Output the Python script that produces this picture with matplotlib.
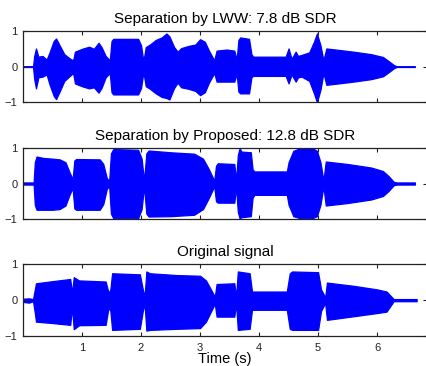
import matplotlib
matplotlib.use("Agg")
import matplotlib.pyplot as plt

plt.rcParams['font.family'] = ['Liberation Sans', 'DejaVu Sans']

titles = ["Separation by LWW: 7.8 dB SDR",
          "Separation by Proposed: 12.8 dB SDR",
          "Original signal"]
xticks = [1, 2, 3, 4, 5, 6]
yticks = [-1, 0, 1]
ytick_labels = ["\u22121", "0", "1"]
xlabel = "Time (s)"

# Envelope of each waveform (time in s, upper and lower extremes)
lww_t = [0.00, 0.17, 0.19, 0.22, 0.26, 0.33, 0.40, 0.45, 0.52, 0.56, 0.62, 0.70, 0.80, 0.85,
         0.88, 1.00, 1.12, 1.20, 1.28, 1.33, 1.40, 1.47, 1.50, 1.53, 1.95, 2.00, 2.04, 2.08,
         2.15, 2.25, 2.35, 2.43, 2.48, 2.56, 2.62, 2.68, 2.80, 2.92, 3.00, 3.08, 3.15, 3.24,
         3.28, 3.45, 3.58, 3.62, 3.65, 3.68, 3.83, 3.87, 3.90, 4.45, 4.50, 4.55, 4.62, 4.66,
         4.72, 4.85, 4.93, 4.98, 5.04, 5.09, 5.14, 5.30, 5.60, 5.90, 6.10, 6.20, 6.28, 6.33, 6.64]
lww_hi = [0.01, 0.01, 0.30, 0.51, 0.28, 0.30, 0.20, 0.40, 0.72, 0.79, 0.60, 0.35, 0.22, 0.18,
          0.42, 0.50, 0.56, 0.50, 0.67, 0.55, 0.30, 0.18, 0.72, 0.78, 0.78, 0.60, 0.15, 0.55,
          0.62, 0.75, 0.82, 0.93, 0.85, 0.55, 0.42, 0.52, 0.58, 0.62, 0.77, 0.70, 0.45, 0.18,
          0.45, 0.48, 0.45, 0.20, 0.75, 0.82, 0.78, 0.35, 0.28, 0.28, 0.51, 0.22, 0.42, 0.30,
          0.33, 0.40, 0.70, 0.93, 0.60, 0.18, 0.51, 0.48, 0.42, 0.35, 0.27, 0.15, 0.05, 0.01, 0.01]
lww_lo = [-0.01, -0.01, -0.35, -0.61, -0.30, -0.28, -0.22, -0.50, -0.82, -0.91, -0.70, -0.40, -0.25, -0.18,
          -0.47, -0.55, -0.61, -0.58, -0.73, -0.60, -0.30, -0.18, -0.72, -0.78, -0.78, -0.60, -0.15, -0.55,
          -0.62, -0.75, -0.85, -0.88, -0.92, -0.60, -0.45, -0.58, -0.62, -0.68, -0.80, -0.72, -0.45, -0.18,
          -0.42, -0.42, -0.42, -0.20, -0.70, -0.75, -0.75, -0.30, -0.26, -0.26, -0.47, -0.22, -0.42, -0.30,
          -0.28, -0.40, -0.75, -1.00, -0.65, -0.18, -0.51, -0.48, -0.42, -0.35, -0.27, -0.15, -0.05, -0.01, -0.01]

prop_t = [0.00, 0.18, 0.20, 0.23, 0.35, 0.50, 0.62, 0.72, 0.78, 0.84, 0.87, 0.90, 1.30, 1.36,
          1.42, 1.46, 1.49, 1.53, 1.95, 2.01, 2.05, 2.09, 2.13, 2.50, 2.90, 3.05, 3.15, 3.24,
          3.27, 3.30, 3.58, 3.61, 3.64, 3.67, 3.70, 3.86, 3.89, 3.92, 4.47, 4.50, 4.58, 4.70,
          4.90, 4.98, 5.04, 5.09, 5.13, 5.50, 5.90, 6.10, 6.20, 6.28, 6.33, 6.64]
prop_hi = [0.03, 0.03, 0.60, 0.76, 0.72, 0.70, 0.68, 0.60, 0.35, 0.12, 0.65, 0.69, 0.68, 0.55,
           0.15, 0.08, 0.85, 0.97, 0.95, 0.70, 0.08, 0.85, 0.93, 0.88, 0.84, 0.70, 0.40, 0.08,
           0.50, 0.57, 0.55, 0.10, 0.80, 1.00, 0.90, 0.88, 0.40, 0.34, 0.34, 0.60, 0.92, 1.00,
           1.00, 0.92, 0.60, 0.08, 0.62, 0.55, 0.45, 0.35, 0.20, 0.05, 0.03, 0.03]
prop_lo = [-0.03, -0.03, -0.60, -0.74, -0.74, -0.74, -0.72, -0.62, -0.35, -0.12, -0.70, -0.74, -0.74, -0.58,
           -0.15, -0.08, -0.85, -0.98, -0.98, -0.72, -0.08, -0.85, -0.93, -0.92, -0.88, -0.72, -0.40, -0.08,
           -0.50, -0.54, -0.54, -0.10, -0.80, -0.98, -0.95, -0.92, -0.40, -0.32, -0.32, -0.60, -0.92, -0.98,
           -0.98, -0.92, -0.60, -0.08, -0.62, -0.55, -0.45, -0.35, -0.20, -0.05, -0.03, -0.03]

orig_t = [0.00, 0.10, 0.17, 0.20, 0.22, 0.50, 0.80, 0.83, 0.86, 0.95, 1.40, 1.45, 1.48, 1.51,
          1.98, 2.03, 2.06, 2.09, 2.15, 2.60, 3.00, 3.10, 3.25, 3.28, 3.58, 3.61, 3.64, 3.84,
          3.88, 4.47, 4.52, 4.56, 5.00, 5.05, 5.12, 5.15, 5.60, 6.00, 6.16, 6.28, 6.67]
orig_hi = [0.04, 0.05, 0.03, 0.30, 0.47, 0.53, 0.59, 0.20, 0.64, 0.55, 0.52, 0.20, 0.30, 0.75,
           0.72, 0.30, 0.10, 0.80, 0.75, 0.70, 0.68, 0.55, 0.10, 0.45, 0.47, 0.10, 0.80, 0.75,
           0.24, 0.24, 0.75, 0.80, 0.78, 0.30, 0.08, 0.49, 0.40, 0.30, 0.24, 0.03, 0.03]
orig_lo = [-0.05, -0.07, -0.03, -0.35, -0.60, -0.64, -0.69, -0.20, -0.81, -0.70, -0.69, -0.20, -0.30, -0.83,
           -0.80, -0.30, -0.10, -0.85, -0.83, -0.80, -0.78, -0.60, -0.10, -0.46, -0.46, -0.10, -0.83, -0.80,
           -0.27, -0.27, -0.80, -0.83, -0.83, -0.30, -0.08, -0.55, -0.45, -0.36, -0.32, -0.03, -0.03]

series = [(lww_t, lww_lo, lww_hi), (prop_t, prop_lo, prop_hi), (orig_t, orig_lo, orig_hi)]

fig = plt.figure(figsize=(4.26, 3.66), dpi=100)
rects = [(0.054, 0.7205, 0.949, 0.1948),
         (0.054, 0.4016, 0.949, 0.1940),
         (0.054, 0.0820, 0.949, 0.1959)]

for i, (rect, (t, lo, hi), title) in enumerate(zip(rects, series, titles)):
    ax = fig.add_axes(rect)
    ax.fill_between(t, lo, hi, color='#0000ff', linewidth=0.9, edgecolor='#0000ff')
    ax.set_xlim(0, 6.85)
    ax.set_ylim(-1, 1)
    ax.set_xticks(xticks)
    ax.set_yticks(yticks)
    ax.set_yticklabels(ytick_labels)
    if i < 2:
        ax.set_xticklabels([])
    else:
        ax.set_xticklabels([str(v) for v in xticks])
        ax.set_xlabel(xlabel, fontsize=10.5, labelpad=-1)
    ax.tick_params(direction='in', length=3, width=0.8, top=True, right=True,
                   labelsize=8, pad=5, colors='#222222')
    ax.tick_params(axis='y', pad=4)
    for s in ax.spines.values():
        s.set_linewidth(0.9)
        s.set_color('#222222')
    ax.set_title(title, fontsize=11, pad=6)

fig.savefig("out.png", dpi=100)
